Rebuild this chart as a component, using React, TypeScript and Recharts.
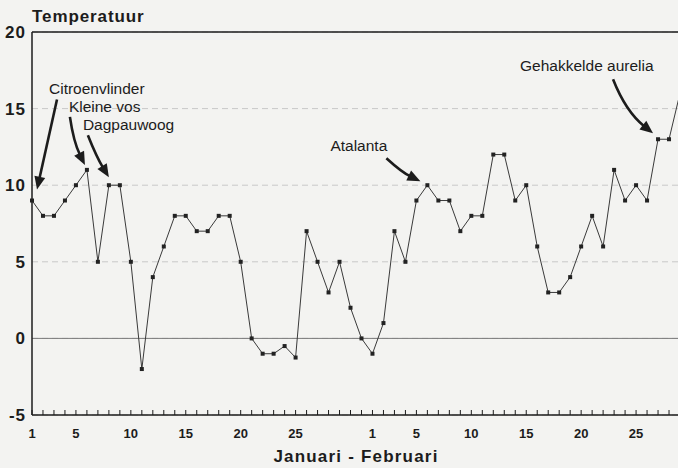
import {
  CartesianGrid,
  Label,
  Line,
  LineChart,
  ReferenceDot,
  ReferenceLine,
  XAxis,
  YAxis,
} from "recharts";

// dagelijkse temperatuur (graden C)
const dagenJanuari = [
  1, 2, 3, 4, 5, 6, 7, 8, 9, 10, 11, 12, 13, 14, 15, 16, 17, 18, 19, 20, 21,
  22, 23, 24, 25, 26, 27, 28, 29, 30, 31,
];
const januari = [
  9, 8, 8, 9, 10, 11, 5, 10, 10, 5, -2, 4, 6, 8, 8, 7, 7, 8, 8, 5, 0, -1, -1,
  -0.5, -1.25, 7, 5, 3, 5, 2, 0,
];
const dagenFebruari = [
  1, 2, 3, 4, 5, 6, 7, 8, 9, 10, 11, 12, 13, 14, 15, 16, 17, 18, 19, 20, 21,
  22, 23, 24, 25, 26, 27, 28, 29,
];
const februari = [
  -1, 1, 7, 5, 9, 10, 9, 9, 7, 8, 8, 12, 12, 9, 10, 6, 3, 3, 4, 6, 8, 6, 11, 9,
  10, 9, 13, 13, 16,
];
const yTicks = [-5, 0, 5, 10, 15, 20];
const labelDagen = [1, 5, 10, 15, 20, 25];

// eerste waarneming van elke vlinder
const vlinders = [
  "Citroenvlinder",
  "Kleine vos",
  "Dagpauwoog",
  "Atalanta",
  "Gehakkelde aurelia",
];
const vlinderDagen = ["1 jan", "6 jan", "8 jan", "6 feb", "27 feb"];

const data = [
  ...januari.map((t, i) => ({ dag: `${dagenJanuari[i]} jan`, temperatuur: t })),
  ...februari.map((t, i) => ({ dag: `${dagenFebruari[i]} feb`, temperatuur: t })),
];

// positie van tekst en pijl t.o.v. het aangewezen punt
const layout: Record<string, { tx: number; ty: number; sx: number; sy: number; ex: number; ey: number; bend: number }> = {
  Citroenvlinder: { tx: 17, ty: -107, sx: 25, sy: -101, ex: 5, ey: -11, bend: 0 },
  "Kleine vos": { tx: -18, ty: -58, sx: -17, sy: -53, ex: -2, ey: -5, bend: 4 },
  Dagpauwoog: { tx: -26, ty: -55, sx: -21, sy: -50, ex: 0, ey: -8, bend: 2 },
  Atalanta: { tx: -97, ty: -34, sx: -41, sy: -27, ex: -7, ey: -4, bend: 3 },
  "Gehakkelde aurelia": { tx: -138, ty: -68, sx: -45, sy: -60, ex: -5, ey: -6, bend: 9 },
};

const font = "'Liberation Sans', Arial, sans-serif";
const ink = "#1c1c1c";

function Pijl({ sx, sy, ex, ey, bend }: { sx: number; sy: number; ex: number; ey: number; bend: number }) {
  const dx = ex - sx;
  const dy = ey - sy;
  const len = Math.hypot(dx, dy);
  const mx = (sx + ex) / 2 + (-dy / len) * bend;
  const my = (sy + ey) / 2 + (dx / len) * bend;
  const tx = ex - mx;
  const ty = ey - my;
  const tl = Math.hypot(tx, ty);
  const ux = tx / tl;
  const uy = ty / tl;
  const head = 13;
  const half = 5.5;
  const bx = ex - ux * head;
  const by = ey - uy * head;
  return (
    <g>
      <path
        d={`M${sx},${sy} Q${mx},${my} ${bx + ux * 2},${by + uy * 2}`}
        fill="none"
        stroke={ink}
        strokeWidth={2.6}
      />
      <polygon
        points={`${ex},${ey} ${bx - uy * half},${by + ux * half} ${bx + uy * half},${by - ux * half}`}
        fill={ink}
      />
    </g>
  );
}

function Annotatie(props: any, naam: string) {
  const { cx, cy } = props;
  const l = layout[naam];
  return (
    <g>
      <text x={cx + l.tx} y={cy + l.ty} fontFamily={font} fontSize={15.5} fill={ink}>
        {naam}
      </text>
      <Pijl sx={cx + l.sx} sy={cy + l.sy} ex={cx + l.ex} ey={cy + l.ey} bend={l.bend} />
    </g>
  );
}

function DagTick(props: any) {
  const { x, y, payload } = props;
  const dag = parseInt(payload.value, 10);
  return (
    <g>
      <line x1={x} x2={x} y1={y} y2={y - 5} stroke={ink} strokeWidth={1} />
      {labelDagen.includes(dag) && (
        <text x={x} y={y + 23} textAnchor="middle" fontFamily={font} fontSize={13} fontWeight={700} fill={ink}>
          {dag}
        </text>
      )}
    </g>
  );
}

function TempTick(props: any) {
  const { y, payload } = props;
  return (
    <text x={26} y={y + 6} textAnchor="end" fontFamily={font} fontSize={17} fontWeight={700} letterSpacing={1} fill={ink}>
      {payload.value}
    </text>
  );
}

function Blokje(props: any) {
  const { cx, cy } = props;
  if (cx == null || cy == null) return null;
  return <rect x={cx - 2} y={cy - 2} width={4} height={4} fill="#222" />;
}

export default function App() {
  return (
    <div
      style={{
        position: "absolute",
        left: 0,
        top: 0,
        width: 678,
        height: 468,
        overflow: "hidden",
        background: "#f3f3f1",
      }}
    >
      <LineChart width={680} height={468} data={data} margin={{ top: 32, right: 0, bottom: 0, left: 0 }}>
        <CartesianGrid vertical={false} stroke="#c8c8c8" strokeDasharray="6 4" />
        <XAxis
          dataKey="dag"
          interval={0}
          height={53}
          tickLine={false}
          tickSize={0}
          tickMargin={0}
          axisLine={{ stroke: ink, strokeWidth: 1.5 }}
          tick={<DagTick />}
        >
          <Label
            content={({ viewBox }: any) => (
              <text
                x={viewBox.x + viewBox.width / 2}
                y={viewBox.y + 47}
                textAnchor="middle"
                fontFamily={font}
                fontSize={17}
                fontWeight={700}
                letterSpacing={1.2}
                fill={ink}
              >
                Januari - Februari
              </text>
            )}
          />
        </XAxis>
        <YAxis
          width={32}
          domain={[-5, 20]}
          ticks={yTicks}
          tickLine={false}
          axisLine={{ stroke: ink, strokeWidth: 1.5 }}
          tick={<TempTick />}
        >
          <Label
            content={({ viewBox }: any) => (
              <text
                x={viewBox.x + viewBox.width}
                y={viewBox.y - 10}
                fontFamily={font}
                fontSize={17}
                fontWeight={700}
                letterSpacing={0.9}
                fill={ink}
              >
                Temperatuur
              </text>
            )}
          />
        </YAxis>
        <ReferenceLine y={0} stroke="#7a7a7a" strokeWidth={1} />
        <ReferenceLine y={20} stroke={ink} strokeWidth={1.5} />
        <Line
          type="linear"
          dataKey="temperatuur"
          stroke="#3a3a3a"
          strokeWidth={1}
          dot={<Blokje />}
          activeDot={false}
          isAnimationActive={false}
        />
        {vlinders.map((naam, i) => {
          const punt = data.find((d) => d.dag === vlinderDagen[i]);
          return (
            <ReferenceDot
              key={naam}
              x={vlinderDagen[i]}
              y={punt ? punt.temperatuur : 0}
              shape={(p: any) => Annotatie(p, naam)}
            />
          );
        })}
      </LineChart>
    </div>
  );
}
